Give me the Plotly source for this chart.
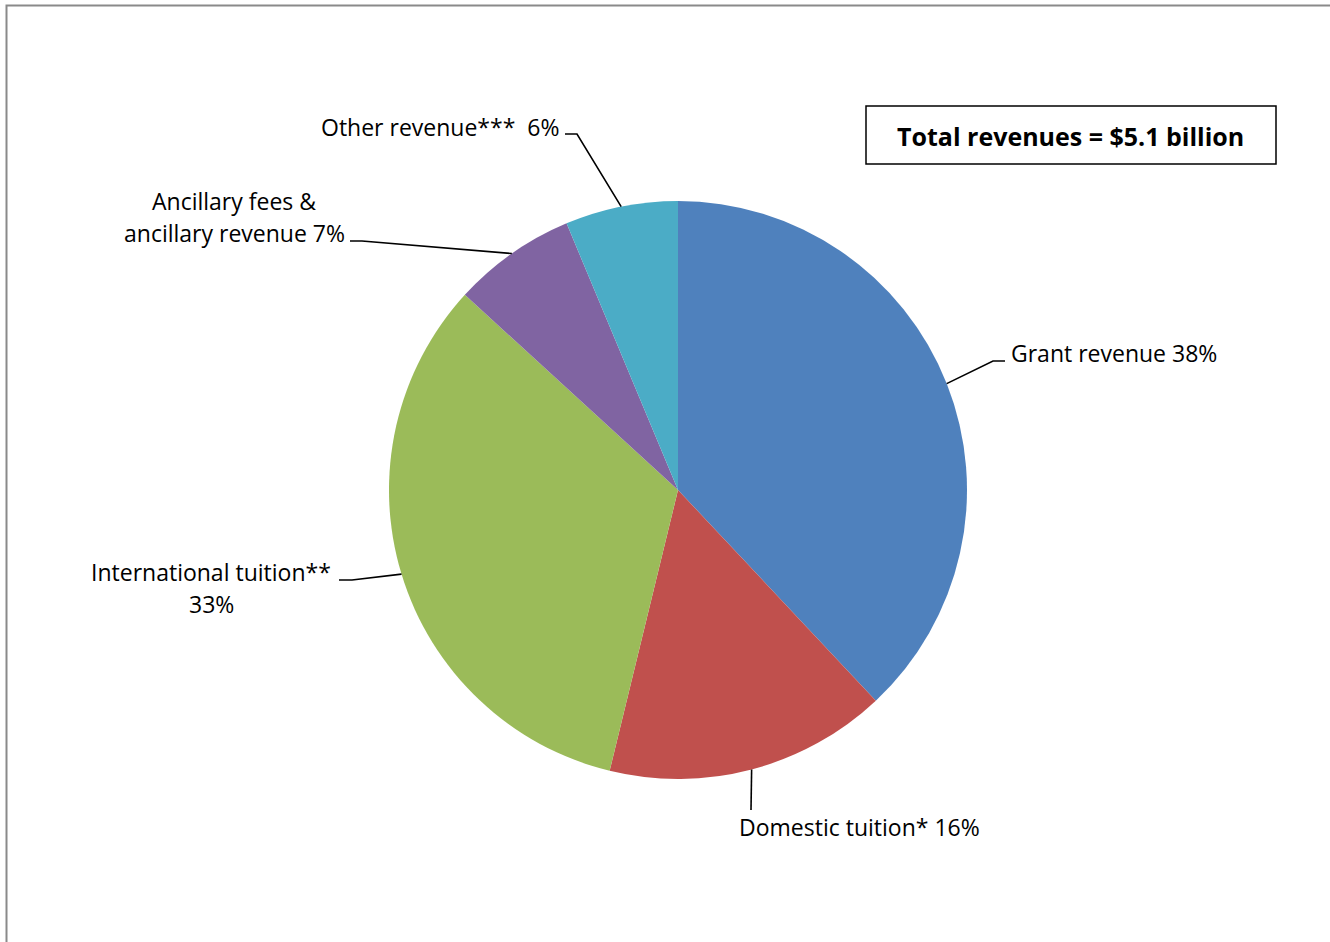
import math
import plotly.graph_objects as go

# ---- data ----
categories = ["Grant revenue", "Domestic tuition*", "International tuition**",
              "Ancillary fees & ancillary revenue", "Other revenue***"]
shares = [38.0, 15.8, 33.0, 6.9, 6.3]          # percent of total revenues
label_lines = [["Grant revenue 38%"],
               ["Domestic tuition* 16%"],
               ["International tuition**", "33%"],
               ["Ancillary fees &", "ancillary revenue 7%"],
               ["Other revenue***  6%"]]
colors = ["#4F81BD", "#C0504D", "#9BBB59", "#8064A2", "#4BACC6"]
title_text = "Total revenues = $5.1 billion"

# ---- layout geometry (pixels) ----
W, H = 1330, 942
CX, CY, R = 678, 490, 289
FONT = "'Open Sans', Lato, sans-serif"
FS = 23
LINE_H = 32

def px(x):
    return x / W

def py(y):
    return 1 - y / H

# label placement: (anchor x, first-line centre y, xanchor, leader elbow points)
label_layout = [
    (1009, 353, "left", [(993, 361), (1005, 361)]),
    (859, 827, "center", [(751, 810)]),
    (211, 572, "center", [(352, 580), (339, 580)]),
    (234, 201, "center", [(362, 241), (350, 241)]),
    (561, 127, "right", [(577, 134), (565, 134)]),
]

fig = go.Figure()
fig.add_trace(go.Pie(
    labels=categories,
    values=shares,
    sort=False,
    direction="clockwise",
    rotation=0,
    marker=dict(colors=colors, line=dict(width=0)),
    textinfo="none",
    hoverinfo="label+percent",
    showlegend=False,
    domain=dict(x=[px(CX - R), px(CX + R)], y=[py(CY + R), py(CY - R)]),
))

shapes = []
annotations = []
total = sum(shares)
cum = 0.0
for val, lines, (ax, ay, xanc, elbows) in zip(shares, label_lines, label_layout):
    mid = (cum + val / 2) / total
    cum += val
    th = 2 * math.pi * mid
    ex = CX + R * math.sin(th)
    ey = CY - R * math.cos(th)
    pts = [(ex, ey)] + elbows
    path = "M " + " L ".join(f"{px(x):.5f},{py(y):.5f}" for x, y in pts)
    shapes.append(dict(type="path", xref="paper", yref="paper", path=path,
                       line=dict(color="black", width=1.6)))
    for i, t in enumerate(lines):
        annotations.append(dict(
            text=t, x=px(ax), y=py(ay + i * LINE_H), xref="paper", yref="paper",
            xanchor=xanc, yanchor="middle", showarrow=False,
            font=dict(family=FONT, size=FS, color="black")))

# total box
shapes.append(dict(type="rect", xref="paper", yref="paper",
                   x0=px(866), x1=px(1276), y0=py(164), y1=py(106),
                   line=dict(color="black", width=1.5), fillcolor="white"))
annotations.append(dict(
    text=f"<b>{title_text}</b>", x=px(1070), y=py(136), xref="paper", yref="paper",
    xanchor="center", yanchor="middle", showarrow=False,
    font=dict(family=FONT, size=25, color="black")))

# outer chart border (only top and left visible in the crop)
shapes.append(dict(type="rect", xref="paper", yref="paper",
                   x0=px(6.5), x1=px(W + 10), y0=py(H + 10), y1=py(5.5),
                   line=dict(color="#8a8a8a", width=2)))

fig.update_layout(
    width=W, height=H,
    margin=dict(l=0, r=0, t=0, b=0),
    paper_bgcolor="white", plot_bgcolor="white",
    shapes=shapes, annotations=annotations,
)

fig.write_html("out.html")
